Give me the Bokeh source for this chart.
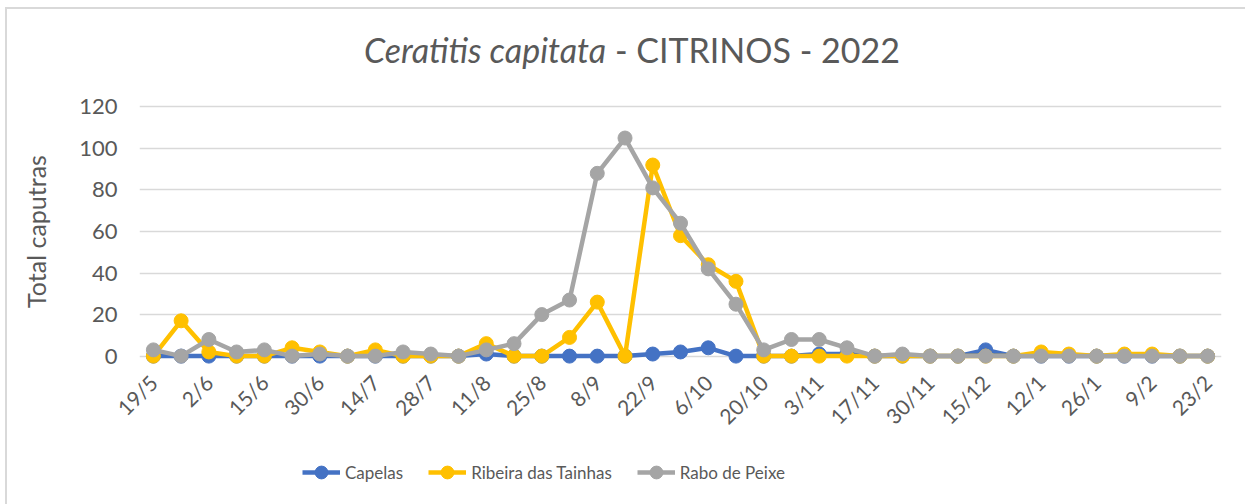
from bokeh.plotting import figure
from bokeh.models import Legend, LegendItem, FixedTicker, Range1d, Div
from bokeh.layouts import column
from bokeh.embed import file_html
from bokeh.resources import INLINE

# ---- data ----
dates = ["19/5", "26/5", "2/6", "9/6", "15/6", "23/6", "30/6", "7/7", "14/7", "21/7",
         "28/7", "4/8", "11/8", "18/8", "25/8", "1/9", "8/9", "15/9", "22/9", "29/9",
         "6/10", "13/10", "20/10", "27/10", "3/11", "10/11", "17/11", "24/11", "30/11", "7/12",
         "15/12", "29/12", "12/1", "19/1", "26/1", "2/2", "9/2", "16/2", "23/2"]

capelas = [0, 0, 0, 0, 0, 0, 0, 0, 0, 0,
           0, 0, 1, 0, 0, 0, 0, 0, 1, 2,
           4, 0, 0, 0, 1, 1, 0, 0, 0, 0,
           3, 0, 0, 0, 0, 0, 0, 0, 0]

ribeira = [0, 17, 2, 0, 0, 4, 2, 0, 3, 0,
           0, 0, 6, 0, 0, 9, 26, 0, 92, 58,
           44, 36, 0, 0, 0, 0, 0, 0, 0, 0,
           0, 0, 2, 1, 0, 1, 1, 0, 0]

rabo = [3, 0, 8, 2, 3, 0, 1, 0, 0, 2,
        1, 0, 3, 6, 20, 27, 88, 105, 81, 64,
        42, 25, 3, 8, 8, 4, 0, 1, 0, 0,
        0, 0, 0, 0, 0, 0, 0, 0, 0]

series_names = ["Capelas", "Ribeira das Tainhas", "Rabo de Peixe"]
series_values = [capelas, ribeira, rabo]
series_colors = ["#4472C4", "#FFC000", "#A5A5A5"]

y_ticks = [0, 20, 40, 60, 80, 100, 120]

FONT = "Lato"
TXT = "#595959"

x = list(range(len(dates)))

title = Div(
    text='<div style="padding-left:364px; padding-top:33px; '
         'font-family:Lato; font-size:34px; color:#595959; line-height:1; white-space:nowrap;">'
         '<i>Ceratitis capitata</i> - CITRINOS - 2022</div>',
    width=1245, height=70, margin=0)

p = figure(width=1245, height=374, output_backend="svg", toolbar_location=None,
           x_range=Range1d(-0.5, len(dates) - 0.5), y_range=Range1d(-5, 125),
           min_border_left=139, min_border_right=24, min_border_top=26, min_border_bottom=78)

p.outline_line_color = None
p.background_fill_alpha = 0
p.border_fill_alpha = 0

# axes
p.xaxis.ticker = FixedTicker(ticks=x[::2])
p.xaxis.major_label_overrides = {i: dates[i] for i in x[::2]}
p.xaxis.major_label_orientation = 0.785398
p.xaxis.axis_line_color = None
p.xaxis.major_tick_line_color = None
p.xaxis.minor_tick_line_color = None
p.xaxis.major_label_text_font = FONT
p.xaxis.major_label_text_font_size = "21px"
p.xaxis.major_label_text_color = TXT
p.xaxis.major_label_standoff = 6

p.yaxis.ticker = FixedTicker(ticks=y_ticks)
p.yaxis.axis_line_color = None
p.yaxis.major_tick_line_color = None
p.yaxis.minor_tick_line_color = None
p.yaxis.major_label_text_font = FONT
p.yaxis.major_label_text_font_size = "22px"
p.yaxis.major_label_text_color = TXT
p.yaxis.major_label_standoff = 16
p.yaxis.axis_label = "Total caputras"
p.yaxis.axis_label_text_font = FONT
p.yaxis.axis_label_text_font_size = "25px"
p.yaxis.axis_label_text_font_style = "normal"
p.yaxis.axis_label_text_color = TXT
p.yaxis.axis_label_standoff = 25

p.xgrid.grid_line_color = None
p.ygrid.grid_line_color = "#D9D9D9"
p.ygrid.grid_line_width = 1.5

for vals, col in zip(series_values, series_colors):
    p.line(x, vals, line_color=col, line_width=4.5)
    p.scatter(x, vals, size=14, fill_color=col, line_color=col)

# legend in its own strip (renderers drawn out of view carry the styles)
lg = figure(width=1245, height=60, output_backend="svg", toolbar_location=None,
            x_range=Range1d(-100, -99), y_range=Range1d(-100, -99), min_border=0,
            x_axis_location=None, y_axis_location=None)
lg.outline_line_color = None
lg.background_fill_alpha = 0
lg.border_fill_alpha = 0
lg.xgrid.visible = False
lg.ygrid.visible = False
items = []
for name, vals, col in zip(series_names, series_values, series_colors):
    r1 = lg.line(x, vals, line_color=col, line_width=4.5)
    r2 = lg.scatter(x, vals, size=14, fill_color=col, line_color=col)
    items.append(LegendItem(label=name, renderers=[r1, r2]))
legend = Legend(items=items, orientation="horizontal", location=(163, 16),
                label_text_font=FONT, label_text_font_size="17px", label_text_color=TXT,
                glyph_width=38, glyph_height=32, label_standoff=5, spacing=25,
                padding=0, margin=0, border_line_color=None, background_fill_alpha=0)
lg.add_layout(legend, "center")

layout = column(title, p, lg, spacing=0,
                styles={"box-shadow": "inset 5px 7px 0 0 #ffffff, inset 7px 9px 0 0 #D9D9D9"})

open("out.html", "w").write(file_html(layout, INLINE))
